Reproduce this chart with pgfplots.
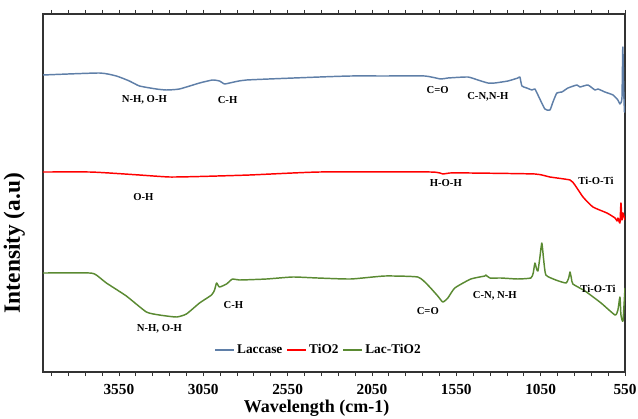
\documentclass[border=0pt]{standalone}
\usepackage{fontspec}
\setmainfont{Liberation Serif}
\usepackage{pgfplots}
\pgfplotsset{compat=1.18}
\definecolor{lac}{HTML}{5F7FA8}
\definecolor{tio}{HTML}{FF0000}
\definecolor{lactio}{HTML}{5A8A32}
\begin{document}
\begin{tikzpicture}
\begin{axis}[
  scale only axis,
  width=436.5pt, height=268.5pt,
  x dir=reverse,
  xmin=550, xmax=4000,
  ymin=46, ymax=404,
  xtick={550,1050,...,3550},
  minor xtick={650,750,...,3950},
  ytick=\empty,
  tick align=outside,
  major tick length=3pt, minor tick length=3pt,
  axis line style={black!80, line width=0.8pt},
  every tick/.style={black!80, line width=0.6pt},
  /pgf/number format/assume math mode=true,
  /pgf/number format/1000 sep={},
  xticklabel style={font=\fontsize{11.5}{13}\selectfont\bfseries, yshift=-2.5pt},
  xlabel={Wavelength (cm-1)},
  ylabel={Intensity (a.u)},
  every axis x label/.style={at={(rel axis cs:0.47,0)}, anchor=base, yshift=-30.5pt,
    font=\fontsize{13.5}{16}\selectfont\bfseries},
  every axis y label/.style={at={(rel axis cs:0,0.36)}, rotate=90, anchor=south, yshift=10pt,
    font=\fontsize{17.5}{20}\selectfont\bfseries},
  legend style={at={(rel axis cs:0.474,0.061)}, anchor=center, draw=none, fill=none,
    font=\fontsize{10}{12}\selectfont\bfseries, inner sep=0pt,
    /tikz/every even column/.append style={column sep=1pt}},
  legend columns=3,
  legend image code/.code={\draw[#1] (0pt,0pt) -- (14pt,0pt);},
  every axis plot/.append style={line width=1.1pt, line join=round},
]
% Laccase
\addplot[color=lac, smooth, tension=0.3] coordinates {
(4000,343) (3666,345) (3565,342) (3488,337) (3428,332) (3328,329) (3268,328)
(3191,329) (3072,335) (2995,338) (2954,337) (2924,334) (2894,335) (2793,338)
(2360,341) (2176,342) (1974,342) (1737,342) (1642,339) (1600,340) (1482,341)
(1422,338) (1363,335) (1322,335) (1244,337) (1185,340) (1173,341) (1161,332)
(1132,330) (1102,328) (1084,329) (1066,323) (1025,309) (995,308) (977,316)
(954,325) (924,326) (888,330) (835,333) (817,331) (770,333) (728,328)
(710,329) (669,326) (621,323) (592,318) (580,314) (568,320) (563,371)
(558,330) (553,306) (550,310)
};
\addlegendentry{Laccase}
% TiO2
\addplot[color=tio, smooth, tension=0.3] coordinates {
(4000,246) (3725,246) (3607,245) (3428,243) (3250,241) (3072,241.5) (2776,243)
(2360,246) (1701,246) (1630,244) (1589,245) (1464,245) (1084,244) (995,241)
(876,238) (847,233) (799,221) (740,211) (657,205) (609,200) (597,197)
(592,200) (580,195) (574,215) (568,198) (562,205) (550,198)
};
\addlegendentry{TiO2}
% Lac-TiO2
\addplot[color=lactio, smooth, tension=0.3] coordinates {
(4000,145) (3725,145) (3684,143) (3624,135) (3506,122) (3387,106) (3310,103)
(3209,101) (3150,104) (3072,115) (3001,123) (2983,128) (2971,135) (2954,131)
(2912,134) (2877,139) (2835,138) (2675,139) (2520,141) (2372,140) (2176,139)
(1974,142) (1779,141) (1719,133) (1660,122) (1630,116) (1600,120) (1559,130)
(1464,139) (1381,142) (1375,143) (1351,140) (1286,140) (1185,139) (1108,140)
(1094,145) (1084,155) (1074,149) (1066,147) (1055,160) (1043,175) (1032,158)
(1019,143) (960,138) (900,135) (884,140) (876,146) (868,140) (859,134)
(787,127) (692,115) (609,103) (592,108) (580,121) (574,103) (562,97) (550,130)
};
\addlegendentry{Lac-TiO2}
% band labels
\begin{scope}[every node/.style={font=\fontsize{8}{9.6}\selectfont\bfseries}]
\node at (axis cs:3399,318) {N-H, O-H};
\node at (axis cs:2906,318) {C-H};
\node at (axis cs:1660,328) {C=O};
\node at (axis cs:1363,321) {C-N,N-H};
\node at (axis cs:3405,221) {O-H};
\node at (axis cs:1612,235) {H-O-H};
\node at (axis cs:722,237) {Ti-O-Ti};
\node at (axis cs:3310,89) {N-H, O-H};
\node at (axis cs:2871,113) {C-H};
\node at (axis cs:1719,107) {C=O};
\node at (axis cs:1322,122) {C-N, N-H};
\node at (axis cs:710,129) {Ti-O-Ti};
\end{scope}
\end{axis}
\pgfresetboundingbox
\path ([xshift=-32.25pt,yshift=-34.5pt]current axis.south west)
  rectangle ([xshift=9.75pt,yshift=10.5pt]current axis.north east);
\end{tikzpicture}
\end{document}
